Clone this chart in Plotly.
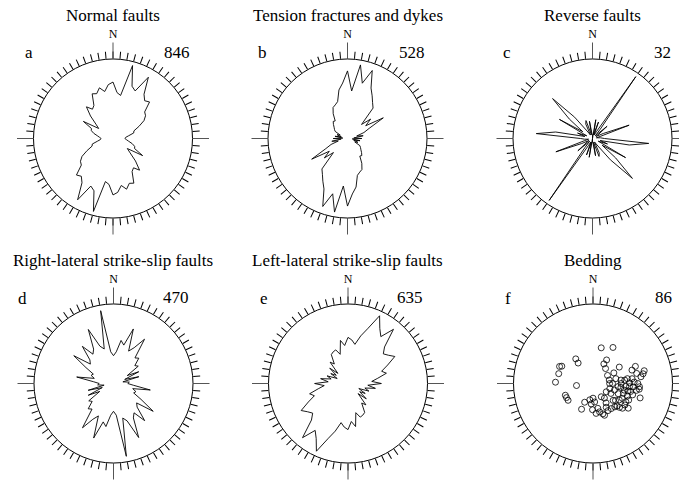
import numpy as np
import plotly.graph_objects as go

# ---------------------------------------------------------------------------
# Strike rose data: relative frequency (1 = outer circle) per 5-degree bin,
# azimuths 0-175; strikes are axial so the 180-355 half repeats these values.
# ---------------------------------------------------------------------------
bin_azimuth = list(range(0, 180, 5))

normal_faults = [0.71, 0.58, 0.55, 0.95, 0.70, 0.66, 0.89, 0.68, 0.62, 0.65,
                 0.52, 0.50, 0.45, 0.36, 0.28, 0.27, 0.20, 0.16, 0.15, 0.17,
                 0.20, 0.25, 0.29, 0.30, 0.43, 0.22, 0.28, 0.40, 0.52, 0.45,
                 0.48, 0.62, 0.60, 0.66, 0.60, 0.68]

tension_fractures = [0.85, 0.60, 0.94, 0.72, 0.91, 0.70, 0.62, 0.55, 0.50, 0.25,
                     0.38, 0.28, 0.52, 0.30, 0.22, 0.12, 0.20, 0.08, 0.18, 0.06,
                     0.16, 0.08, 0.14, 0.10, 0.18, 0.20, 0.22, 0.25, 0.28, 0.27,
                     0.36, 0.43, 0.45, 0.48, 0.62, 0.70]

reverse_faults = [0.05, 0.00, 0.24, 0.05, 0.22, 0.05, 0.10, 0.95, 0.15, 0.05,
                  0.24, 0.10, 0.05, 0.15, 0.49, 0.10, 0.05, 0.10, 0.15, 0.71,
                  0.47, 0.10, 0.20, 0.08, 0.48, 0.15, 0.38, 0.71, 0.35, 0.10,
                  0.05, 0.20, 0.24, 0.05, 0.22, 0.05]

right_lateral = [0.35, 0.40, 0.55, 0.50, 0.73, 0.45, 0.52, 0.68, 0.42, 0.45,
                 0.35, 0.38, 0.20, 0.35, 0.15, 0.33, 0.12, 0.20, 0.18, 0.25,
                 0.47, 0.25, 0.30, 0.28, 0.40, 0.61, 0.38, 0.42, 0.61, 0.45,
                 0.50, 0.75, 0.50, 0.45, 0.93, 0.40]

left_lateral = [0.58, 0.55, 0.50, 0.62, 0.74, 0.94, 0.80, 0.72, 0.89, 0.65,
                0.58, 0.62, 0.68, 0.55, 0.45, 0.50, 0.38, 0.30, 0.42, 0.25,
                0.35, 0.22, 0.28, 0.15, 0.25, 0.18, 0.30, 0.18, 0.35, 0.30,
                0.42, 0.44, 0.45, 0.38, 0.55, 0.48]

# Bedding poles (trend, plunge in degrees), lower-hemisphere equal-area net
pole_trend = [13, 29, 325, 324, 30, 29, 40, 297, 299, 286,
              272, 263, 58, 68, 76, 79, 82, 61, 63, 78,
              90, 83, 82, 83, 89, 95, 95, 90, 94, 99,
              102, 102, 98, 97, 107, 119, 112, 108, 110, 106,
              107, 247, 242, 236, 204, 191, 180, 175, 185, 142,
              146, 204, 181, 169, 167, 162, 160, 151, 144, 137,
              133, 132, 124, 125, 119, 122, 127, 117, 115, 107,
              122, 88, 95, 90, 84, 130, 148, 77, 151, 174,
              71, 90, 78, 130, 97, 102]

pole_plunge = [52, 47, 59, 64, 62, 67, 70, 51, 53, 53,
               51, 73, 58, 42, 34, 36, 39, 73, 66, 73,
               70, 61, 54, 49, 52, 56, 48, 43, 41, 44,
               50, 57, 61, 64, 67, 69, 62, 57, 52, 47,
               38, 59, 59, 59, 69, 73, 75, 71, 69, 71,
               66, 61, 63, 64, 60, 57, 55, 58, 58, 57,
               56, 53, 50, 45, 51, 58, 61, 56, 49, 72,
               74, 47, 52, 61, 57, 63, 74, 43, 62, 59,
               47, 73, 66, 50, 41, 53]

panel_titles = ["Normal faults", "Tension fractures and dykes", "Reverse faults",
                "Right-lateral strike-slip faults", "Left-lateral strike-slip faults",
                "Bedding"]
panel_letters = ["a", "b", "c", "d", "e", "f"]
counts = [846, 528, 32, 470, 635, 86]

# ---------------------------------------------------------------------------
# Layout geometry (pixels)
# ---------------------------------------------------------------------------
W, H = 679, 480
R = 79.5
centres = [(113, 138.5), (347.5, 138.5), (592.5, 138.5),
           (113.5, 383.5), (348, 383.5), (593, 383.5)]
letter_x = [29, 262, 507, 22, 264, 508]
count_right = [192, 427, 673, 191, 425, 674]
FONT = "Liberation Serif, Times New Roman, serif"

fig = go.Figure()


def domain(cx, cy):
    return dict(x=[(cx - R) / W, (cx + R) / W],
                y=[1 - (cy + R) / H, 1 - (cy - R) / H])


def closed_rose(values):
    theta = bin_azimuth + [a + 180 for a in bin_azimuth] + [bin_azimuth[0]]
    r = list(values) + list(values) + [values[0]]
    return theta, r


roses = [normal_faults, tension_fractures, reverse_faults, right_lateral, left_lateral]

for i, values in enumerate(roses):
    theta, r = closed_rose(values)
    fig.add_trace(go.Scatterpolar(
        theta=theta, r=r, mode="lines",
        line=dict(color="black", width=0.9),
        subplot="polar" if i == 0 else f"polar{i + 1}",
        showlegend=False, hoverinfo="skip"))

# equal-area radius of each pole
pole_r = [np.sqrt(2) * np.sin(np.radians(90 - p) / 2) for p in pole_plunge]
fig.add_trace(go.Scatterpolar(
    theta=pole_trend, r=pole_r, mode="markers",
    marker=dict(symbol="circle-open", size=6, color="black", line=dict(width=0.8)),
    subplot="polar6", showlegend=False, hoverinfo="skip"))

# cardinal overlay subplots (long N/E/S/W ticks and the "N" label)
for i in range(6):
    fig.add_trace(go.Scatterpolar(theta=[], r=[], mode="lines",
                                  subplot=f"polar{i + 7}", showlegend=False))

layout = dict(width=W, height=H, margin=dict(l=0, r=0, t=0, b=0),
              paper_bgcolor="white", plot_bgcolor="white", showlegend=False,
              font=dict(family=FONT, color="black"))

for i, (cx, cy) in enumerate(centres):
    key = "polar" if i == 0 else f"polar{i + 1}"
    layout[key] = dict(
        domain=domain(cx, cy), bgcolor="white",
        angularaxis=dict(rotation=90, direction="clockwise", tickmode="linear",
                         tick0=0, dtick=5, ticks="outside", ticklen=7, tickwidth=1,
                         tickcolor="black", showline=True, linecolor="black",
                         linewidth=1, showgrid=False, showticklabels=False),
        radialaxis=dict(visible=False, range=[0, 1]))
    layout[f"polar{i + 7}"] = dict(
        domain=domain(cx, cy), bgcolor="rgba(0,0,0,0)",
        angularaxis=dict(rotation=90, direction="clockwise", tickmode="array",
                         tickvals=[0, 90, 180, 270], ticktext=["N", "", "", ""],
                         ticks="outside", ticklen=16, tickwidth=1.2, tickcolor="#555",
                         showline=False, showgrid=False, showticklabels=True,
                         tickfont=dict(family=FONT, size=12, color="black")),
        radialaxis=dict(visible=False, range=[0, 1]))

annotations = []
for i, (cx, cy) in enumerate(centres):
    top = cy - R
    annotations.append(dict(text=panel_titles[i], x=cx / W, y=1 - (top - 44) / H,
                            xref="paper", yref="paper", xanchor="center", yanchor="middle",
                            showarrow=False, font=dict(family=FONT, size=17)))
    annotations.append(dict(text=panel_letters[i], x=letter_x[i] / W, y=1 - (top - 6) / H,
                            xref="paper", yref="paper", xanchor="center", yanchor="middle",
                            showarrow=False, font=dict(family=FONT, size=17)))
    annotations.append(dict(text=str(counts[i]), x=count_right[i] / W, y=1 - (top - 7) / H,
                            xref="paper", yref="paper", xanchor="right", yanchor="middle",
                            showarrow=False, font=dict(family=FONT, size=17)))
layout["annotations"] = annotations

fig.update_layout(**layout)
fig.write_html("out.html")
